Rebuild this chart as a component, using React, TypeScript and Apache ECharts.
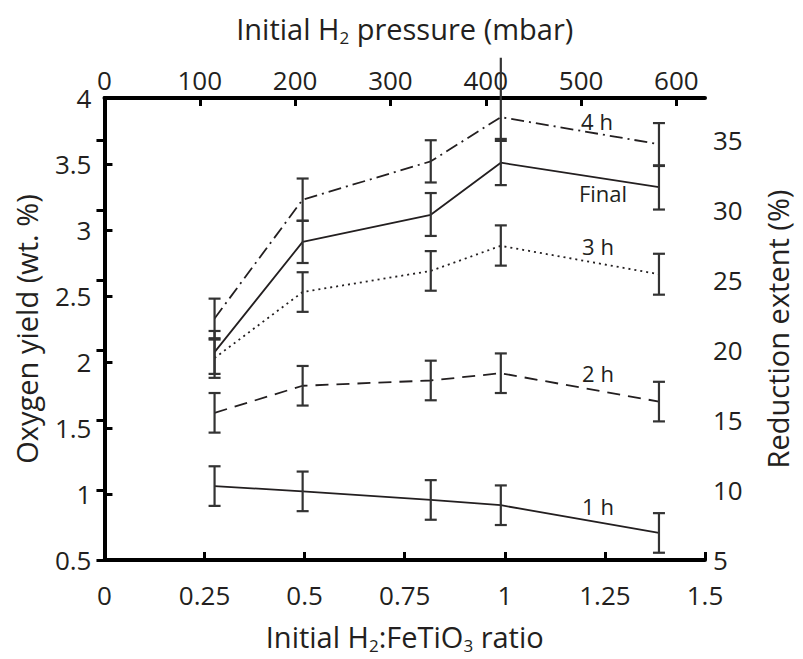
import React, { useEffect, useRef } from "react";
import * as echarts from "echarts";

// H2:FeTiO3 ratios of the five experiments
const ratios = [0.275, 0.495, 0.815, 0.99, 1.385];

// Oxygen yield (wt. %) per reduction time
const yield1h = [1.06, 1.02, 0.955, 0.915, 0.705];
const yield2h = [1.615, 1.82, 1.86, 1.915, 1.70];
const yield3h = [2.03, 2.53, 2.69, 2.88, 2.665];
const yieldFinal = [2.075, 2.91, 3.115, 3.51, 3.325];
const yield4h = [2.33, 3.23, 3.52, 3.855, 3.65];

// error bar half-widths (lower, upper)
const err1hLo = [0.15, 0.15, 0.15, 0.15, 0.15];
const err1hHi = [0.15, 0.15, 0.15, 0.15, 0.15];
const err2hLo = [0.15, 0.15, 0.15, 0.15, 0.15];
const err2hHi = [0.15, 0.15, 0.15, 0.15, 0.15];
const err3hLo = [0.15, 0.15, 0.15, 0.15, 0.155];
const err3hHi = [0.15, 0.15, 0.15, 0.155, 0.155];
const errFinalLo = [0.165, 0.16, 0.16, 0.17, 0.17];
const errFinalHi = [0.16, 0.16, 0.165, 0.165, 0.16];
const err4hLo = [0.16, 0.16, 0.16, 0.165, 0.16];
const err4hHi = [0.15, 0.16, 0.16, 0.45, 0.16];

const bottomTicks = { min: 0, max: 1.5, interval: 0.25 };
const topTicks = { min: 0, max: 630, interval: 100 };
const leftTicks = { min: 0.5, max: 4, interval: 0.5 };
const rightTicks = { min: 5, max: 38, interval: 5 };

const FONT = "Open Sans";
const TXT = "#231f20";
const LINE = "#231f20";

function pairs(vals: number[]) {
  return ratios.map((r, i) => [r, vals[i]]);
}
function errData(vals: number[], lo: number[], hi: number[]) {
  return ratios.map((r, i) => [r, vals[i] - lo[i], vals[i] + hi[i]]);
}

export default function App() {
  const ref = useRef<HTMLDivElement>(null);
  useEffect(() => {
    if (!ref.current) return;
    const chart = echarts.init(ref.current, null, { renderer: "svg" });

    const axisLine = { show: true, lineStyle: { color: "#000", width: 4 } };
    const axisTick = { show: true, inside: true, length: 8, lineStyle: { color: "#000", width: 3 } };
    const labelBase = { fontSize: 26, color: TXT, fontFamily: FONT };
    const nameStyle = {
      fontSize: 29,
      color: TXT,
      fontFamily: FONT,
      lineHeight: 36,
      rich: { s: { fontSize: 17, lineHeight: 8, verticalAlign: "bottom", fontFamily: FONT, color: TXT } },
    };

    const lineSeries = (name: string, vals: number[], type: any) => ({
      name,
      type: "line",
      xAxisIndex: 0,
      yAxisIndex: 0,
      data: pairs(vals),
      symbol: "none",
      lineStyle: { color: LINE, width: 1.8, type },
      z: 3,
    });

    const errSeries = (name: string, data: number[][]) => ({
      name,
      type: "custom",
      xAxisIndex: 0,
      yAxisIndex: 0,
      clip: false,
      data,
      encode: { x: 0, y: [1, 2] },
      z: 4,
      renderItem: (params: any, api: any) => {
        const x = api.value(0);
        const lo = api.value(1);
        const hi = api.value(2);
        const pLo = api.coord([x, lo]);
        const pHi = api.coord([x, hi]);
        const hw = 6;
        const st = { stroke: "#333", lineWidth: 2.2 };
        const children: any[] = [
          { type: "line", shape: { x1: pLo[0], y1: pLo[1], x2: pHi[0], y2: pHi[1] }, style: st },
          { type: "line", shape: { x1: pLo[0] - hw, y1: pLo[1], x2: pLo[0] + hw, y2: pLo[1] }, style: st },
        ];
        if (hi <= leftTicks.max) {
          children.push({ type: "line", shape: { x1: pHi[0] - hw, y1: pHi[1], x2: pHi[0] + hw, y2: pHi[1] }, style: st });
        }
        return { type: "group", children };
      },
    });

    const lab = (text: string, x: number, y: number) => ({
      type: "text",
      x,
      y,
      style: { text, fontSize: 22, fill: TXT, fontFamily: FONT, align: "center", verticalAlign: "middle" },
      z: 10,
    });

    chart.setOption({
      animation: false,
      backgroundColor: "#fff",
      grid: { left: 104, right: 89, top: 98, bottom: 98, containLabel: false },
      xAxis: [
        {
          type: "value",
          position: "bottom",
          ...bottomTicks,
          axisLine,
          axisTick,
          splitLine: { show: false },
          axisLabel: { ...labelBase, margin: 22 },
          name: "Initial H{s|2}:FeTiO{s|3} ratio",
          nameLocation: "middle",
          nameGap: 58,
          nameTextStyle: nameStyle,
        },
        {
          type: "value",
          position: "top",
          ...topTicks,
          axisLine,
          axisTick,
          splitLine: { show: false },
          axisLabel: { ...labelBase, margin: 5, showMaxLabel: false },
          name: "Initial H{s|2} pressure (mbar)",
          nameLocation: "middle",
          nameGap: 52,
          nameTextStyle: nameStyle,
        },
      ],
      yAxis: [
        {
          type: "value",
          position: "left",
          ...leftTicks,
          axisLine,
          axisTick,
          splitLine: { show: false },
          axisLabel: { ...labelBase, margin: 13 },
          name: "Oxygen yield (wt. %)",
          nameLocation: "middle",
          nameRotate: 90,
          nameGap: 56,
          nameTextStyle: nameStyle,
        },
        {
          type: "value",
          position: "right",
          ...rightTicks,
          axisLine,
          axisTick,
          splitLine: { show: false },
          axisLabel: { ...labelBase, margin: 8, showMaxLabel: false },
          name: "Reduction extent (%)",
          nameLocation: "middle",
          nameRotate: 90,
          nameGap: 54,
          nameTextStyle: nameStyle,
        },
      ],
      series: [
        lineSeries("1 h", yield1h, "solid"),
        lineSeries("2 h", yield2h, [13, 8]),
        lineSeries("3 h", yield3h, [2, 4]),
        lineSeries("Final", yieldFinal, "solid"),
        lineSeries("4 h", yield4h, [13, 5, 2, 5]),
        errSeries("e1", errData(yield1h, err1hLo, err1hHi)),
        errSeries("e2", errData(yield2h, err2hLo, err2hHi)),
        errSeries("e3", errData(yield3h, err3hLo, err3hHi)),
        errSeries("eF", errData(yieldFinal, errFinalLo, errFinalHi)),
        errSeries("e4", errData(yield4h, err4hLo, err4hHi)),
      ],
      graphic: [
        lab("4 h", 597, 121),
        lab("Final", 603, 193),
        lab("3 h", 598, 246),
        lab("2 h", 598, 373),
        lab("1 h", 598, 506),
      ],
    });
    return () => chart.dispose();
  }, []);
  return <div ref={ref} style={{ width: 803, height: 659, position: "absolute", left: 0, top: 0 }} />;
}
